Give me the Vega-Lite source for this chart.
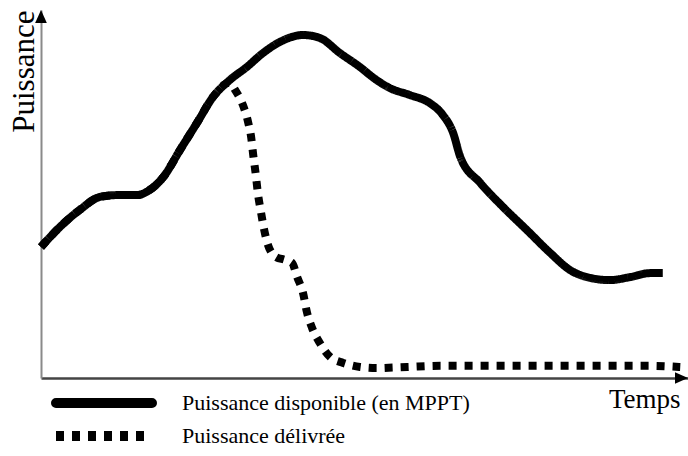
{
  "$schema": "https://vega.github.io/schema/vega-lite/v6.json",
  "width": 647,
  "height": 368,
  "autosize": {"type": "none"},
  "padding": {"left": 41, "top": 10, "right": 0, "bottom": 78},
  "background": "white",
  "config": {
    "view": {"stroke": null},
    "legend": {
      "labelFont": "Liberation Serif", "labelFontSize": 22, "labelColor": "black", "labelLimit": 0,
      "symbolStrokeWidth": 10, "padding": 0
    }
  },
  "datasets": {
    "courbes": [
      {"serie": "Puissance disponible (en MPPT)", "t": 0, "P": 35.6},
      {"serie": "Puissance disponible (en MPPT)", "t": 2.9, "P": 41.0},
      {"serie": "Puissance disponible (en MPPT)", "t": 6.0, "P": 45.7},
      {"serie": "Puissance disponible (en MPPT)", "t": 9.1, "P": 49.2},
      {"serie": "Puissance disponible (en MPPT)", "t": 11.7, "P": 49.7},
      {"serie": "Puissance disponible (en MPPT)", "t": 14.8, "P": 49.7},
      {"serie": "Puissance disponible (en MPPT)", "t": 16.8, "P": 51.1},
      {"serie": "Puissance disponible (en MPPT)", "t": 18.9, "P": 54.6},
      {"serie": "Puissance disponible (en MPPT)", "t": 21.5, "P": 62.0},
      {"serie": "Puissance disponible (en MPPT)", "t": 24.1, "P": 69.3},
      {"serie": "Puissance disponible (en MPPT)", "t": 26.6, "P": 76.4},
      {"serie": "Puissance disponible (en MPPT)", "t": 29.2, "P": 81.0},
      {"serie": "Puissance disponible (en MPPT)", "t": 31.8, "P": 84.5},
      {"serie": "Puissance disponible (en MPPT)", "t": 34.3, "P": 88.3},
      {"serie": "Puissance disponible (en MPPT)", "t": 36.9, "P": 91.3},
      {"serie": "Puissance disponible (en MPPT)", "t": 40.5, "P": 93.2},
      {"serie": "Puissance disponible (en MPPT)", "t": 43.1, "P": 92.4},
      {"serie": "Puissance disponible (en MPPT)", "t": 46.2, "P": 88.3},
      {"serie": "Puissance disponible (en MPPT)", "t": 49.3, "P": 84.5},
      {"serie": "Puissance disponible (en MPPT)", "t": 51.6, "P": 81.3},
      {"serie": "Puissance disponible (en MPPT)", "t": 53.9, "P": 78.8},
      {"serie": "Puissance disponible (en MPPT)", "t": 57.0, "P": 76.9},
      {"serie": "Puissance disponible (en MPPT)", "t": 60.1, "P": 74.7},
      {"serie": "Puissance disponible (en MPPT)", "t": 62.1, "P": 71.5},
      {"serie": "Puissance disponible (en MPPT)", "t": 63.7, "P": 66.6},
      {"serie": "Puissance disponible (en MPPT)", "t": 64.8, "P": 60.1},
      {"serie": "Puissance disponible (en MPPT)", "t": 67.9, "P": 53.0},
      {"serie": "Puissance disponible (en MPPT)", "t": 71.4, "P": 46.5},
      {"serie": "Puissance disponible (en MPPT)", "t": 75.1, "P": 40.2},
      {"serie": "Puissance disponible (en MPPT)", "t": 78.7, "P": 34.0},
      {"serie": "Puissance disponible (en MPPT)", "t": 81.8, "P": 29.3},
      {"serie": "Puissance disponible (en MPPT)", "t": 84.9, "P": 27.2},
      {"serie": "Puissance disponible (en MPPT)", "t": 87.9, "P": 26.6},
      {"serie": "Puissance disponible (en MPPT)", "t": 91.0, "P": 27.4},
      {"serie": "Puissance disponible (en MPPT)", "t": 94.1, "P": 28.5},
      {"serie": "Puissance disponible (en MPPT)", "t": 96.1, "P": 28.5},
      {"serie": "Puissance délivrée", "t": 0, "P": 35.6},
      {"serie": "Puissance délivrée", "t": 2.9, "P": 41.0},
      {"serie": "Puissance délivrée", "t": 6.0, "P": 45.7},
      {"serie": "Puissance délivrée", "t": 9.1, "P": 49.2},
      {"serie": "Puissance délivrée", "t": 11.7, "P": 49.7},
      {"serie": "Puissance délivrée", "t": 14.8, "P": 49.7},
      {"serie": "Puissance délivrée", "t": 16.8, "P": 51.1},
      {"serie": "Puissance délivrée", "t": 18.9, "P": 54.6},
      {"serie": "Puissance délivrée", "t": 21.5, "P": 62.0},
      {"serie": "Puissance délivrée", "t": 24.1, "P": 69.3},
      {"serie": "Puissance délivrée", "t": 26.6, "P": 76.4},
      {"serie": "Puissance délivrée", "t": 29.1, "P": 80.2},
      {"serie": "Puissance délivrée", "t": 30.1, "P": 78.0},
      {"serie": "Puissance délivrée", "t": 31.2, "P": 74.2},
      {"serie": "Puissance délivrée", "t": 32.0, "P": 69.6},
      {"serie": "Puissance délivrée", "t": 32.5, "P": 65.2},
      {"serie": "Puissance délivrée", "t": 32.8, "P": 60.6},
      {"serie": "Puissance délivrée", "t": 33.2, "P": 55.2},
      {"serie": "Puissance délivrée", "t": 33.5, "P": 50.5},
      {"serie": "Puissance délivrée", "t": 34.0, "P": 45.1},
      {"serie": "Puissance délivrée", "t": 34.5, "P": 40.2},
      {"serie": "Puissance délivrée", "t": 35.1, "P": 36.1},
      {"serie": "Puissance délivrée", "t": 36.3, "P": 32.9},
      {"serie": "Puissance délivrée", "t": 37.7, "P": 32.1},
      {"serie": "Puissance délivrée", "t": 38.8, "P": 31.3},
      {"serie": "Puissance délivrée", "t": 39.6, "P": 27.4},
      {"serie": "Puissance délivrée", "t": 40.5, "P": 23.1},
      {"serie": "Puissance délivrée", "t": 41.1, "P": 17.9},
      {"serie": "Puissance délivrée", "t": 41.9, "P": 13.6},
      {"serie": "Puissance délivrée", "t": 43.1, "P": 9.5},
      {"serie": "Puissance délivrée", "t": 44.7, "P": 5.7},
      {"serie": "Puissance délivrée", "t": 46.7, "P": 4.1},
      {"serie": "Puissance délivrée", "t": 49.3, "P": 3.0},
      {"serie": "Puissance délivrée", "t": 51.9, "P": 2.7},
      {"serie": "Puissance délivrée", "t": 56.6, "P": 3.0},
      {"serie": "Puissance délivrée", "t": 61.7, "P": 3.3},
      {"serie": "Puissance délivrée", "t": 68.9, "P": 3.3},
      {"serie": "Puissance délivrée", "t": 77.1, "P": 3.3},
      {"serie": "Puissance délivrée", "t": 86.4, "P": 3.3},
      {"serie": "Puissance délivrée", "t": 94.1, "P": 3.3},
      {"serie": "Puissance délivrée", "t": 98.8, "P": 3.0}
    ]
  },
  "layer": [
    {
      "data": {"name": "courbes"},
      "mark": {"type": "line", "interpolate": "monotone", "strokeWidth": 8, "strokeJoin": "round", "strokeCap": "butt"},
      "encoding": {
        "x": {
          "field": "t", "type": "quantitative",
          "scale": {"domain": [0, 100], "nice": false, "zero": false},
          "axis": {
            "title": "Temps", "ticks": false, "labels": false, "grid": false,
            "domainColor": "#444444", "domainWidth": 2.5,
            "titleFont": "Liberation Serif", "titleFontSize": 27, "titleFontWeight": "normal", "titleColor": "black",
            "titleAnchor": "end", "titleAlign": "right", "titleBaseline": "alphabetic", "titleX": 639, "titleY": 29
          }
        },
        "y": {
          "field": "P", "type": "quantitative",
          "scale": {"domain": [0, 100], "nice": false},
          "axis": {
            "title": "Puissance", "ticks": false, "labels": false, "grid": false,
            "domainColor": "#8a8a8a", "domainWidth": 2,
            "titleFont": "Liberation Serif", "titleFontSize": 31, "titleFontWeight": "normal", "titleColor": "black",
            "titleAngle": 270, "titleAlign": "right", "titleBaseline": "alphabetic", "titleX": -8, "titleY": 0
          }
        },
        "color": {
          "field": "serie", "type": "nominal",
          "scale": {"domain": ["Puissance disponible (en MPPT)", "Puissance délivrée"], "range": ["#000000", "#000000"]},
          "legend": {
            "orient": "none", "legendX": 10, "legendY": 382, "title": null, "padding": 0,
            "symbolType": "M-1,0H8.143", "symbolSize": 441, "symbolStrokeWidth": 10,
            "labelFont": "Liberation Serif", "labelFontSize": 22, "labelColor": "black", "labelOffset": 100, "labelLimit": 0,
            "clipHeight": 22, "rowPadding": 11,
            "encode": {
              "symbols": {"update": {
                "strokeDash": {"signal": "datum.value === 'Puissance délivrée' ? [9, 11] : [1, 0]"},
                "strokeCap": {"signal": "datum.value === 'Puissance délivrée' ? 'butt' : 'round'"}
              }}
            }
          }
        },
        "strokeDash": {
          "field": "serie", "type": "nominal",
          "scale": {"domain": ["Puissance disponible (en MPPT)", "Puissance délivrée"], "range": [[1, 0], [8, 8]]},
          "legend": null
        }
      }
    },
    {
      "data": {"values": [{}]},
      "mark": {"type": "point", "shape": "M0,0L0.9,2L-0.9,2Z", "filled": true, "color": "black", "opacity": 1, "size": 169, "strokeWidth": 0},
      "encoding": {"x": {"datum": 0, "type": "quantitative"}, "y": {"datum": 100, "type": "quantitative"}}
    },
    {
      "data": {"values": [{}]},
      "mark": {"type": "point", "shape": "M0,0L-2,-0.9L-2,0.9Z", "filled": true, "color": "black", "opacity": 1, "size": 169, "strokeWidth": 0},
      "encoding": {"x": {"datum": 100, "type": "quantitative"}, "y": {"datum": 0, "type": "quantitative"}}
    }
  ]
}
